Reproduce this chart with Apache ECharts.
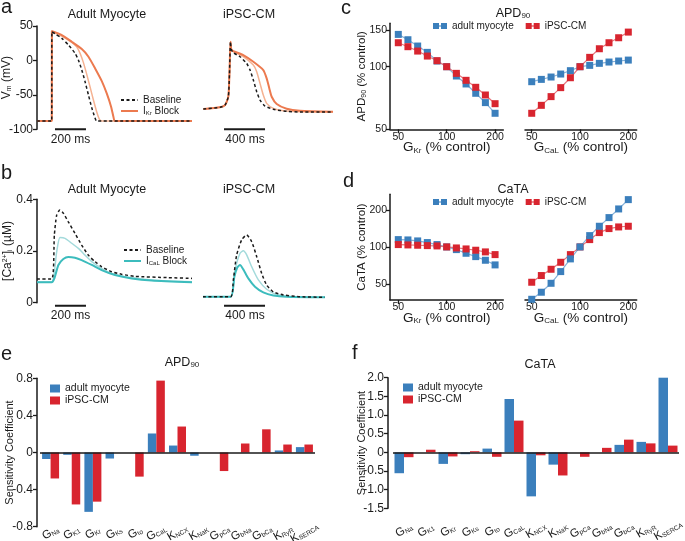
<!DOCTYPE html>
<html>
<head>
<meta charset="utf-8">
<script src="https://cdn.jsdelivr.net/npm/echarts@6.0.0/dist/echarts.min.js"></script>
<style>
html,body{margin:0;padding:0;background:#fff;}
#main{width:685px;height:541px;}
</style>
</head>
<body>
<div id="main"></div>
<script>
// ---- data ----
// panel a: membrane potential traces [ms, mV]
const apAdultBase = [[0,-88],[95,-88],[96,41.7],[116,38.8],[160,32.1],[203,22.4],[246,10.3],[267,0.6],[289,-13.9],[310,-30.8],[332,-50.2],[353,-68.5],[375,-84],[385,-88],[1000,-88]];
const apAdultLow = [[0,-88],[95,-88],[96,41.7],[160,35.4],[224,26.2],[256,19.9],[278,10.2],[299,-2.8],[321,-20.3],[342,-38.2],[364,-57.5],[385,-74.5],[402,-85.1],[418,-88],[1000,-88]];
const apAdultHigh = [[0,-88],[95,-88],[96,42.6],[160,36.9],[224,27.2],[289,16.5],[332,5.4],[375,-11.6],[418,-30],[450,-47.9],[478,-67.2],[493,-81.7],[502,-88],[1000,-88]];
const apIpscBase = [[3,-70.6],[166,-68.1],[215,-64.8],[247,-52.7],[258,-20],[268,27.2],[276,16],[296,11.2],[361,5.4],[426,-4.3],[459,-14],[491,-28.5],[524,-45.4],[556,-57.5],[605,-66.2],[686,-71],[816,-73.9],[946,-74.9],[1268,-74.9]];
const apIpscLow = [[3,-70.6],[166,-68.1],[215,-64.8],[247,-52.7],[258,-20],[268,27.2],[276,16],[296,12.7],[393,5.4],[491,-6.7],[524,-16.4],[556,-33.3],[588,-50.2],[621,-62.3],[686,-69.6],[784,-73],[946,-74.4],[1268,-74.9]];
const apIpscHigh = [[3,-70.6],[166,-68.1],[215,-64.8],[247,-52.7],[258,-20],[268,27.2],[276,16],[296,13.6],[393,7.8],[491,-1.9],[588,-14],[621,-26],[647,-40.6],[670,-52.7],[719,-63.3],[816,-70.1],[946,-73],[1268,-74.4]];
// panel b: calcium transients [ms, uM]
const caAdultBase = [[0,0.092],[95,0.092],[112,0.262],[127,0.339],[148,0.359],[170,0.346],[202,0.313],[245,0.268],[288,0.223],[331,0.184],[374,0.159],[417,0.139],[482,0.12],[546,0.11],[632,0.102],[847,0.097],[1000,0.094]];
const caAdultLow = [[0,0.08],[95,0.08],[127,0.197],[148,0.252],[181,0.249],[224,0.23],[267,0.21],[310,0.184],[353,0.159],[417,0.133],[482,0.113],[568,0.1],[675,0.092],[847,0.084],[1000,0.081]];
const caAdultHigh = [[0,0.079],[95,0.079],[112,0.094],[138,0.146],[170,0.169],[202,0.177],[245,0.174],[288,0.165],[353,0.146],[417,0.126],[503,0.107],[611,0.094],[740,0.086],[1000,0.079]];
const caIpscBase = [[0,0.023],[270,0.023],[296,0.088],[328,0.184],[377,0.243],[426,0.262],[475,0.236],[524,0.178],[572,0.114],[621,0.068],[686,0.042],[784,0.03],[946,0.023],[1190,0.021]];
const caIpscLow = [[0,0.023],[270,0.023],[312,0.126],[361,0.191],[393,0.201],[426,0.185],[475,0.139],[540,0.088],[621,0.052],[719,0.032],[849,0.024],[1190,0.021]];
const caIpscHigh = [[0,0.023],[270,0.023],[306,0.1],[335,0.137],[361,0.146],[393,0.129],[442,0.094],[507,0.062],[588,0.04],[686,0.028],[816,0.023],[1190,0.021]];
// scale bars [ms, y]
const barAdultAP = [[116,-100],[316,-100]];
const barIpscAP = [[205,-100],[605,-100]];
const barAdultCa = [[116,-0.012],[316,-0.012]];
const barIpscCa = [[205,-0.012],[605,-0.012]];

// panels c, d: % control
const gScale = [50,57.4,66,75.8,87.1,100,114.9,132,151.6,174.1,200];
const apdGkrAdult = [143,134.8,125.7,117.2,106.5,100,90.2,82.6,74.5,67.2,59.7];
const apdGkrIpsc = [130.4,124.8,118.9,112.5,106.9,100,92.9,86,79.6,73.1,66.4];
const apdGcalAdult = [84.7,86.9,89.2,92.2,95.7,100,101.5,103.8,105.3,106.5,107.6];
const apdGcalIpsc = [59.7,65.2,71.8,79.3,88.5,100,110.9,122,130.4,137.8,146.7];
const cataGkrAdult = [114.7,114,111.9,108.5,104.5,100,95.1,88.8,83.4,77.9,71.4];
const cataGkrIpsc = [104.5,103.8,103.2,102.5,101.9,100,98.1,96.3,94,91.1,86.6];
const cataGcalAdult = [37.5,42.8,50.6,63,79.9,100,123.6,147.3,173.2,203.7,242.6];
const cataGcalIpsc = [51.6,58.5,65.8,75,86.6,100,114.7,130.8,141,145.4,147.3];
const pctTicks = [50,100,200];
const apdTicks = [50,100,150];
const cataTicks = [50,100,200];

// panels e, f: sensitivity coefficients
const sensMain = ['G','G','G','G','G','G','K','K','G','G','G','K','K'];
const sensSub = ['Na','K1','Kr','Ks','to','CaL','NCX','NaK','pCa','bNa','bCa','RyR','SERCA'];
const apdSensAdult = [-0.07,-0.025,-0.64,-0.065,0,0.205,0.075,-0.035,0,0,0,0.022,0.058];
const apdSensIpsc = [-0.28,-0.56,-0.53,0,-0.26,0.775,0.28,0,-0.2,0.097,0.25,0.086,0.086];
const cataSensAdult = [-0.56,0,-0.31,-0.05,0.1,1.43,-1.18,-0.33,0,0,0.2,0.28,2.08];
const cataSensIpsc = [-0.13,0.07,-0.11,0.03,-0.12,0.85,-0.08,-0.62,-0.12,0.12,0.34,0.24,0.18];

// ---- styling ----
const FONT = '"Liberation Sans", Arial, Helvetica, sans-serif';
const INK = '#1a1a1a';
const ORANGE = '#ec7a4f', ORANGE_LT = '#f5b292';
const TEAL = '#3cbcbd', TEAL_LT = '#a3dadb';
const BLUE = '#3b7fbc', BLUE_LN = '#86b2da';
const RED = '#d8252f', RED_LN = '#e8737a';

function richSet(size) {
  const small = Math.round(size * 0.6);
  return {
    n: {fontSize: size, fontFamily: FONT, color: INK},
    s: {fontSize: small, fontFamily: FONT, color: INK, verticalAlign: 'bottom'},
    p: {fontSize: small, fontFamily: FONT, color: INK, verticalAlign: 'top'}
  };
}
const axLine = {lineStyle: {color: INK, width: 1.5}};
const axTick = {length: 4, lineStyle: {color: INK, width: 1.3}};
const noSplit = {show: false};

function hiddenX(grid, max) {
  return {type: 'value', gridIndex: grid, min: 0, max: max, show: false};
}
function logX(grid, min, max, nameTxt) {
  return {
    type: 'log', gridIndex: grid, min: min, max: max,
    axisLine: axLine, axisTick: Object.assign({customValues: pctTicks}, axTick),
    axisLabel: {customValues: pctTicks, color: INK, fontSize: 10.5, fontFamily: FONT, margin: 2},
    splitLine: noSplit, minorTick: {show: false},
    name: nameTxt, nameLocation: 'middle', nameGap: 11, nameMoveOverlap: false,
    nameTextStyle: {rich: richSet(13.5)}
  };
}
function logY(grid, min, max, ticks, nameTxt, show) {
  return {
    type: 'log', gridIndex: grid, min: min, max: max, show: show,
    axisLine: axLine, axisTick: Object.assign({customValues: ticks}, axTick),
    axisLabel: {customValues: ticks, color: INK, fontSize: 10.5, fontFamily: FONT, margin: 3},
    splitLine: noSplit, minorTick: {show: false},
    name: nameTxt, nameLocation: 'middle', nameGap: 22.5, nameRotate: 90, nameMoveOverlap: false,
    nameTextStyle: {rich: richSet(11.5)}
  };
}
function trace(xi, name, data, color, width, dashed) {
  return {
    type: 'line', name: name, xAxisIndex: xi, yAxisIndex: xi, data: data,
    symbol: 'none', smooth: 0.2, z: dashed ? 5 : 3,
    lineStyle: {color: color, width: width, type: dashed ? [3, 2.5] : 'solid'},
    itemStyle: {color: color}
  };
}
function scaleBar(xi, data) {
  return {
    type: 'line', name: 'scalebar', xAxisIndex: xi, yAxisIndex: xi, data: data,
    symbol: 'none', clip: false, lineStyle: {color: INK, width: 2}
  };
}
function pctLine(xi, name, vals, color, lineColor) {
  return {
    type: 'line', name: name, xAxisIndex: xi, yAxisIndex: xi,
    data: gScale.map((g, i) => [g, vals[i]]),
    symbol: 'rect', symbolSize: 7, clip: false,
    lineStyle: {color: lineColor, width: 1.2}, itemStyle: {color: color}
  };
}
function sensBars(xi, name, vals, color, width, zeroLine) {
  const s = {
    type: 'bar', name: name, xAxisIndex: xi, yAxisIndex: xi, data: vals,
    barWidth: width, barGap: '0%', itemStyle: {color: color}
  };
  if (zeroLine) {
    s.markLine = {
      silent: true, symbol: 'none', label: {show: false}, animation: false,
      lineStyle: {color: INK, width: 1.5, type: 'solid'}, data: [{yAxis: 0}]
    };
  }
  return s;
}
function catX(grid, margin) {
  return {
    type: 'category', gridIndex: grid, data: sensSub,
    axisLine: {show: false}, axisTick: {show: false},
    axisLabel: {
      interval: 0, rotate: 30, margin: margin, align: 'center', verticalAlign: 'middle',
      formatter: (v, i) => '{g|' + sensMain[i] + '}{s|' + sensSub[i] + '}',
      rich: {
        g: {fontSize: 11.5, fontFamily: FONT, color: INK},
        s: {fontSize: 6.5, fontFamily: FONT, color: INK, verticalAlign: 'bottom'}
      }
    }
  };
}
function sensY(grid, min, max, step, offset, gap) {
  return {
    type: 'value', gridIndex: grid, min: min, max: max, interval: step, offset: offset,
    axisLine: {show: true, lineStyle: {color: INK, width: 1.5}}, axisTick: {show: true, length: 4, lineStyle: {color: INK, width: 1.3}},
    axisLabel: {color: INK, fontSize: 12, fontFamily: FONT, margin: 4,
      formatter: v => Math.abs(v) < 1e-9 ? '0' : v.toFixed(1)},
    splitLine: noSplit,
    name: 'Sensitivity Coefficient', nameLocation: 'middle', nameGap: gap, nameMoveOverlap: false,
    nameTextStyle: {color: INK, fontSize: 11, fontFamily: FONT}
  };
}
function titleAt(x, y, txt, size) {
  return {text: txt, left: x, top: y, textAlign: 'center', padding: 0,
    textStyle: {fontSize: size, fontWeight: 'normal', color: INK, fontFamily: FONT, rich: richSet(size)}};
}
function letter(txt, x, y) {
  return {type: 'text', x: x, y: y, style: {text: txt, fill: INK, font: '20px ' + FONT,
    textVerticalAlign: 'middle', verticalAlign: 'middle'}};
}
function msLabel(txt, x, y) {
  return {type: 'text', x: x, y: y, style: {text: txt, fill: INK, font: '12px ' + FONT,
    textAlign: 'center', align: 'center', textVerticalAlign: 'middle', verticalAlign: 'middle'}};
}
const nameMap = {adultBar: 'adult myocyte', ipscBar: 'iPSC-CM'};
const squarePair = 'path://M0,0h6v6h-6z M6,2.5h2v1h-2z M8,0h6v6h-6z';
const traceLegend = {orient: 'vertical', padding: 0, itemWidth: 17, itemHeight: 8, itemGap: 1,
  itemStyle: {opacity: 0}};

const chart = echarts.init(document.getElementById('main'), null, {renderer: 'canvas'});
chart.setOption({
  animation: false,
  backgroundColor: '#fff',
  textStyle: {fontFamily: FONT, color: INK},
  title: [
    titleAt(107, 8, 'Adult Myocyte', 12.5),
    titleAt(249, 8, 'iPSC-CM', 12.5),
    titleAt(107, 183, 'Adult Myocyte', 12.5),
    titleAt(249, 183, 'iPSC-CM', 12.5),
    titleAt(513, 7, '{n|APD}{s|90}', 12.5),
    titleAt(513, 183, 'CaTA', 12.5),
    titleAt(182, 356, '{n|APD}{s|90}', 12.5),
    titleAt(540, 358, 'CaTA', 12.5)
  ],
  legend: [
    Object.assign({data: ['Baseline', 'IKr Block'], left: 120, top: 95,
      formatter: n => n === 'IKr Block' ? '{n|I}{s|Kr}{n| Block}' : '{n|' + n + '}',
      textStyle: {rich: richSet(10)}}, traceLegend),
    Object.assign({data: ['Baseline', 'ICaL Block'], left: 123, top: 245,
      formatter: n => n === 'ICaL Block' ? '{n|I}{s|CaL}{n| Block}' : '{n|' + n + '}',
      textStyle: {rich: richSet(10)}}, traceLegend),
    {data: ['adult myocyte', 'iPSC-CM'], left: 433, top: 21, padding: 0, itemGap: 12,
      itemWidth: 14, itemHeight: 6, icon: squarePair,
      textStyle: {fontSize: 10, fontFamily: FONT, color: INK}},
    {data: ['adult myocyte', 'iPSC-CM'], left: 433, top: 197, padding: 0, itemGap: 12,
      itemWidth: 14, itemHeight: 6, icon: squarePair,
      textStyle: {fontSize: 10, fontFamily: FONT, color: INK}},
    {data: ['adultBar', 'ipscBar'], orient: 'vertical', left: 50, top: 383, padding: 0,
      itemWidth: 10, itemHeight: 8, itemGap: 1, icon: 'rect', formatter: n => nameMap[n],
      textStyle: {fontSize: 10.5, fontFamily: FONT, color: INK}},
    {data: ['adultBarF', 'ipscBarF'], orient: 'vertical', left: 403, top: 382, padding: 0,
      itemWidth: 10, itemHeight: 8, itemGap: 1, icon: 'rect', formatter: n => nameMap[n.replace('F', '')],
      textStyle: {fontSize: 10.5, fontFamily: FONT, color: INK}}
  ],
  grid: [
    {left: 37, top: 26, width: 155, height: 103.3},
    {left: 203, top: 26, width: 130, height: 103.3},
    {left: 37, top: 199.3, width: 155, height: 103.4},
    {left: 203, top: 199.3, width: 130, height: 103.4},
    {left: 390, top: 23.3, width: 113.3, height: 106},
    {left: 525, top: 23.3, width: 111.7, height: 106},
    {left: 390, top: 194.3, width: 113.3, height: 105.7},
    {left: 525, top: 194.3, width: 111.7, height: 105.7},
    {left: 40, top: 378.3, width: 275, height: 148.4},
    {left: 393, top: 377.7, width: 286, height: 130.6}
  ].map(g => Object.assign({outerBoundsMode: 'none', containLabel: false}, g)),
  xAxis: [
    hiddenX(0, 1000), hiddenX(1, 1268), hiddenX(2, 1000), hiddenX(3, 1268),
    logX(4, 44.4, 225, '{n|G}{s|Kr}{n| (% control)}'),
    logX(5, 45.4, 225.6, '{n|G}{s|CaL}{n| (% control)}'),
    logX(6, 44.4, 225, '{n|G}{s|Kr}{n| (% control)}'),
    logX(7, 45.4, 225.6, '{n|G}{s|CaL}{n| (% control)}'),
    catX(8, 6), catX(9, 22)
  ],
  yAxis: [
    {type: 'value', gridIndex: 0, min: -100, max: 50, interval: 50,
      axisLine: axLine, axisTick: axTick, splitLine: noSplit,
      axisLabel: {color: INK, fontSize: 12, fontFamily: FONT, margin: 4},
      name: '{n|V}{s|m}{n| (mV)}', nameLocation: 'middle', nameGap: 24, nameRotate: 90, nameMoveOverlap: false,
      nameTextStyle: {rich: richSet(12)}},
    {type: 'value', gridIndex: 1, min: -100, max: 50, show: false},
    {type: 'value', gridIndex: 2, min: 0, max: 0.4, interval: 0.2,
      axisLine: axLine, axisTick: axTick, splitLine: noSplit,
      axisLabel: {color: INK, fontSize: 12, fontFamily: FONT, margin: 4,
        formatter: v => v === 0 ? '0' : v.toFixed(1)},
      name: '{n|[Ca}{p|2+}{n|]}{s|i}{n| (\u00b5M)}', nameLocation: 'middle', nameGap: 23, nameRotate: 90, nameMoveOverlap: false,
      nameTextStyle: {rich: richSet(12)}},
    {type: 'value', gridIndex: 3, min: 0, max: 0.4, show: false},
    logY(4, 50, 161.7, apdTicks, '{n|APD}{s|90}{n| (% control)}', true),
    logY(5, 50, 161.7, apdTicks, '', false),
    logY(6, 37, 268, cataTicks, '{n|CaTA (% control)}', true),
    logY(7, 37, 268, cataTicks, '', false),
    sensY(8, -0.8, 0.8, 0.4, 3, 21.5),
    sensY(9, -1.5, 2, 0.5, 5, 21)
  ],
  series: [
    trace(0, 'IKr Block low', apAdultLow, ORANGE_LT, 1.5, false),
    trace(0, 'IKr Block', apAdultHigh, ORANGE, 2, false),
    trace(0, 'Baseline', apAdultBase, INK, 1.5, true),
    scaleBar(0, barAdultAP),
    trace(1, 'IKr Block low', apIpscLow, ORANGE_LT, 1.5, false),
    trace(1, 'IKr Block', apIpscHigh, ORANGE, 2, false),
    trace(1, 'Baseline', apIpscBase, INK, 1.5, true),
    scaleBar(1, barIpscAP),
    trace(2, 'ICaL Block low', caAdultLow, TEAL_LT, 1.5, false),
    trace(2, 'ICaL Block', caAdultHigh, TEAL, 2, false),
    trace(2, 'Baseline', caAdultBase, INK, 1.5, true),
    scaleBar(2, barAdultCa),
    trace(3, 'ICaL Block low', caIpscLow, TEAL_LT, 1.5, false),
    trace(3, 'ICaL Block', caIpscHigh, TEAL, 2, false),
    trace(3, 'Baseline', caIpscBase, INK, 1.5, true),
    scaleBar(3, barIpscCa),
    pctLine(4, 'adult myocyte', apdGkrAdult, BLUE, BLUE_LN),
    pctLine(4, 'iPSC-CM', apdGkrIpsc, RED, RED_LN),
    pctLine(5, 'adult myocyte', apdGcalAdult, BLUE, BLUE_LN),
    pctLine(5, 'iPSC-CM', apdGcalIpsc, RED, RED_LN),
    pctLine(6, 'adult myocyte', cataGkrAdult, BLUE, BLUE_LN),
    pctLine(6, 'iPSC-CM', cataGkrIpsc, RED, RED_LN),
    pctLine(7, 'iPSC-CM', cataGcalIpsc, RED, RED_LN),
    pctLine(7, 'adult myocyte', cataGcalAdult, BLUE, BLUE_LN),
    sensBars(8, 'adultBar', apdSensAdult, BLUE, 8.5, true),
    sensBars(8, 'ipscBar', apdSensIpsc, RED, 8.5, false),
    sensBars(9, 'adultBarF', cataSensAdult, BLUE, 9.5, true),
    sensBars(9, 'ipscBarF', cataSensIpsc, RED, 9.5, false)
  ],
  graphic: [
    letter('a', 1, 7), letter('b', 1, 173), letter('c', 341, 8),
    letter('d', 343, 181), letter('e', 1, 354), letter('f', 352, 353),
    msLabel('200 ms', 70.5, 140), msLabel('400 ms', 245, 140),
    msLabel('200 ms', 70.5, 316), msLabel('400 ms', 245, 316)
  ]
});
</script>
</body>
</html>
